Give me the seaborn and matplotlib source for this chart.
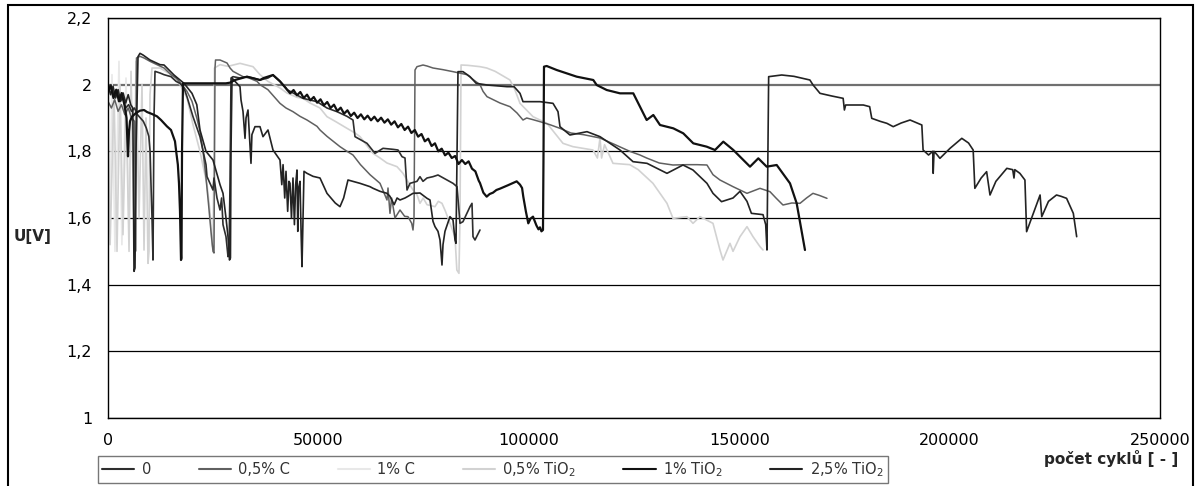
import matplotlib
matplotlib.use("Agg")
import matplotlib.pyplot as plt
from matplotlib.lines import Line2D
from matplotlib.patches import Rectangle
import seaborn as sns
import pandas as pd

# ---------------- data (cycles, voltage) ----------------
series_names = ["0", "0,5% C", "1% C", "0,5% TiO$_2$", "1% TiO$_2$", "2,5% TiO$_2$"]

x_0 = [0, 700, 1400, 2100, 2800, 3500, 4200, 4900, 5600, 6300, 7000, 7700, 8400, 9100, 9700, 10000, 10220,
       10460, 10690, 10930, 11170, 12360, 13310, 14970,
       16160, 17110, 18060, 18770, 20200, 21860, 23290, 23530, 24950, 25190, 25900, 26620, 27000, 27330, 28040,
       28520, 28760, 28990, 29230, 29710, 31370, 33030, 34460, 36120, 38020, 39210, 40870, 42300, 42540, 44000,
       46340, 49670, 52040, 54420, 56800, 58220, 58700, 61550, 63450, 65350, 67730, 68920, 69870, 70580, 71060,
       71770, 73430, 74140, 74860, 75810, 77230, 78420, 80560, 81990, 82940, 83650, 84360, 86030, 86500, 86740,
       87210, 88400]
u_0 = [1.99, 2.00, 1.97, 1.98, 1.95, 1.96, 1.93, 1.94, 1.92, 1.93, 1.91, 1.90, 1.89, 1.87, 1.845, 1.80, 1.70,
       1.60, 1.474, 1.90, 2.04, 2.035, 2.03, 2.024,
       2.01, 2.004, 1.99, 1.964, 1.904, 1.844, 1.76, 1.724, 1.684, 1.72, 1.66, 1.624, 1.66, 1.58, 1.544,
       1.484, 1.49, 1.70, 2.02, 2.024, 2.02, 2.024, 2.02, 2.014, 2.02, 2.029, 2.01, 1.99, 1.985, 1.975,
       1.959, 1.949, 1.93, 1.919, 1.905, 1.894, 1.844, 1.824, 1.794, 1.809, 1.806, 1.804, 1.784, 1.78, 1.684,
       1.704, 1.71, 1.724, 1.71, 1.72, 1.724, 1.729, 1.714, 1.704, 1.694, 1.584, 1.589, 1.634, 1.644, 1.544,
       1.534, 1.564]

x_05c = [0, 800, 1600, 2400, 3200, 4000, 4800, 5600, 6300, 6420, 6540, 6770, 7600, 8560,
         9980, 11640, 13310, 14970, 16160, 17590, 18770, 19960, 21100, 21860, 22580, 23290, 23900, 24470, 24950,
         25190, 25430, 25550, 26620, 28280, 29000, 29710, 32080, 33500, 35410, 36120, 38000, 40870, 42300, 43960,
         45630, 47290, 49670, 50380, 52040, 55130, 56800, 58220, 60000, 62260, 64640, 66300, 66540, 67010, 67400,
         68200, 69390, 70500, 71290, 72170, 72480, 72720, 72960, 73430, 74860, 75810, 77230, 79610, 81990, 85310,
         86800, 88400, 89120, 90070, 93150, 95530, 97200, 98620, 99500, 101000, 102660, 105000, 107410, 110000,
         113000, 116920, 120500, 124000, 126420, 128000, 131000, 134260, 137590, 140000, 142340, 143770, 145430,
         148530, 151850, 154940, 157310, 158740, 160400, 162500, 164450, 166000, 167530, 169000, 170860]
u_05c = [1.95, 1.93, 1.955, 1.92, 1.94, 1.91, 1.93, 1.90, 1.89, 1.70, 1.50, 2.08, 2.085, 2.08,
         2.07, 2.06, 2.05, 2.03, 2.02, 2.00, 1.98, 1.95, 1.90, 1.86, 1.80, 1.72, 1.64, 1.56, 1.50,
         1.495, 2.05, 2.074, 2.074, 2.065, 2.05, 2.04, 2.024, 2.02, 2.01, 2.00, 1.985, 1.944, 1.93, 1.919,
         1.905, 1.894, 1.875, 1.864, 1.845, 1.814, 1.80, 1.789, 1.76, 1.73, 1.704, 1.654, 1.69, 1.614, 1.66,
         1.60, 1.624, 1.605, 1.604, 1.584, 1.564, 1.60, 2.044, 2.054, 2.059, 2.056, 2.05, 2.045, 2.039, 2.03,
         2.015, 2.00, 1.98, 1.964, 1.945, 1.934, 1.915, 1.894, 1.90, 1.895, 1.889, 1.88, 1.869, 1.855,
         1.85, 1.84, 1.82, 1.80, 1.789, 1.78, 1.765, 1.759, 1.76, 1.76, 1.759, 1.73, 1.714,
         1.694, 1.674, 1.689, 1.679, 1.66, 1.639, 1.645, 1.644, 1.66, 1.674, 1.668, 1.659]

x_1c = [0, 475, 950, 1660, 2610, 3300, 4280, 5000, 5500]
u_1c = [1.92, 1.55, 2.03, 1.50, 2.07, 1.52, 2.02, 1.55, 1.90]

x_05t = [0, 500, 1430, 2140, 2850, 3560, 4280, 5000, 5470, 6200, 6650, 7370, 8080, 8560, 9030, 9510, 9740, 9980,
         10460, 12360, 14970,
         17110, 18770, 19490, 20200, 21860, 23530, 24240, 24720, 24950, 25190, 25300, 26620, 28500, 31370, 34460,
         36120, 38000, 40870, 42540, 44910, 46340, 48000, 50380, 52040, 54000, 56800, 58700, 59890, 62970, 64640,
         66300, 68680, 70100, 72480, 73430, 74140, 74900, 75810, 77700, 78500, 79370, 80200, 81270, 82460, 82900,
         83400, 83650, 83900, 85500, 88400, 90000, 92000, 95530, 96720, 97910, 101000, 104320, 108120, 110500,
         115250, 116300, 116920, 117300, 118000, 120010, 124000, 126000, 129510, 132840, 134260, 137590, 139020,
         140680, 143770, 145430, 146150, 147810, 148530, 150190, 151850, 153280, 154940, 155660]
u_05t = [1.88, 1.52, 1.98, 1.50, 2.00, 1.55, 1.96, 1.50, 2.04, 1.55, 2.07, 1.60, 2.00, 1.504, 1.90, 1.464, 1.50, 1.97,
         2.05, 2.05, 2.03,
         2.00, 1.96, 1.92, 1.88, 1.80, 1.70, 1.62, 1.52, 1.51, 1.80, 2.05, 2.06, 2.055, 2.064, 2.054,
         2.03, 2.01, 1.99, 1.975, 1.962, 1.959, 1.945, 1.93, 1.904, 1.89, 1.869, 1.855, 1.844, 1.794, 1.78,
         1.765, 1.754, 1.734, 1.684, 1.67, 1.644, 1.66, 1.64, 1.634, 1.65, 1.644, 1.62, 1.584, 1.544, 1.444,
         1.434, 1.60, 2.059, 2.058, 2.054, 2.05, 2.04, 2.014, 1.984, 1.944, 1.904, 1.884, 1.824, 1.814,
         1.804, 1.78, 1.84, 1.78, 1.82, 1.764, 1.76, 1.745, 1.704, 1.644, 1.599, 1.604, 1.584,
         1.604, 1.584, 1.504, 1.474, 1.524, 1.50, 1.544, 1.574, 1.544, 1.514, 1.504]

x_1t = [0, 650, 1300, 1950, 2600, 3250, 3900, 4400,
        4750, 4990, 5230, 5700, 6650, 7600, 8560, 9270, 10460, 11640, 12600, 14000, 14970, 15920, 16160, 16600,
        16870, 17110, 17350, 17470, 17590, 17820, 20000, 24000, 28000, 29000, 30180, 33030, 36120, 37000, 39210,
        40870, 42540, 43300, 44100, 44900, 45700, 46500, 47300, 48100, 48900, 49700, 50500, 51300, 52100, 52900,
        53700, 54500, 55300, 56100, 56900, 57700, 58500, 59300, 60100, 60900, 61700, 62500, 63300, 64100, 64900,
        65700, 66500, 67300, 68100, 68900, 69700, 70500, 71300, 72100, 72900, 73700, 74500, 75300, 76100, 76900,
        77700, 78500, 79300, 80100, 80900, 81700, 82500, 83300, 84100, 84900, 85700, 86500, 87300, 88100, 88400,
        89200, 89990, 90700, 91490, 92300, 93150, 95000, 97120, 97910, 98400, 98690, 99300, 99880, 100400, 101000,
        101800, 102300, 102660, 103000, 103370, 103500, 103610, 104250, 106620, 111380, 115320, 116130, 118510,
        121670, 124830, 126420, 128010, 129590, 131180, 134340, 136710, 139090, 142270, 144250, 146220, 148600,
        152570, 154540, 156530, 158910, 162070, 163660, 165630]
u_1t = [1.98, 1.995, 1.96, 1.985, 1.95, 1.975, 1.94, 1.90,
        1.785, 1.86, 1.89, 1.904, 1.915, 1.922, 1.924, 1.918, 1.912, 1.905, 1.894, 1.875, 1.864, 1.83, 1.804, 1.76,
        1.704, 1.62, 1.474, 1.48, 1.80, 2.004, 2.004, 2.004, 2.004, 2.006, 2.014, 2.024, 2.014, 2.02, 2.029,
        2.01, 1.985, 1.974, 1.984, 1.968, 1.978, 1.960, 1.970, 1.953, 1.963, 1.946, 1.956, 1.938, 1.948, 1.930,
        1.940, 1.921, 1.931, 1.913, 1.923, 1.906, 1.916, 1.900, 1.911, 1.896, 1.907, 1.893, 1.904, 1.890, 1.901,
        1.886, 1.896, 1.880, 1.890, 1.872, 1.882, 1.864, 1.874, 1.855, 1.864, 1.844, 1.852, 1.830, 1.838, 1.816,
        1.824, 1.800, 1.808, 1.788, 1.796, 1.780, 1.786, 1.762, 1.774, 1.762, 1.770, 1.748, 1.740, 1.712, 1.705,
        1.676, 1.664, 1.672, 1.676, 1.684, 1.688, 1.698, 1.710, 1.700, 1.690, 1.664, 1.620, 1.584, 1.598, 1.604,
        1.578, 1.566, 1.572, 1.560, 1.564, 1.80, 2.054, 2.056, 2.044, 2.024, 2.014, 1.999, 1.984,
        1.974, 1.974, 1.934, 1.894, 1.909, 1.879, 1.869, 1.854, 1.824, 1.814, 1.804, 1.829, 1.804,
        1.754, 1.779, 1.754, 1.759, 1.704, 1.644, 1.504]

x_25t = [0, 600, 1200, 1800, 2400, 3000, 3600, 4200, 4800, 5400, 5900, 6180, 6420, 6650, 7130, 7600, 8320, 9980,
         12360, 13310, 15680, 18060, 19960, 21100,
         21860, 23290, 24950, 26620, 27330, 28040, 28520, 28870, 29100, 29230, 29470, 30180, 31370, 31610, 32080,
         32560, 32800, 33270, 33980, 34200, 34930, 36120, 36830, 38020, 39210, 40870, 41300, 41600, 42000, 42300,
         42700, 43000, 43250, 43600, 43960, 44300, 44600, 44910, 45100, 45300, 45630, 45900, 46100, 46340, 46580,
         47290, 48720, 50380, 52040, 54000, 55130, 56000, 57030,
         59890, 62260, 63000, 64640, 66300, 67010, 68000, 68700, 69390, 70580, 71290, 72480, 74140, 75810, 76520,
         77230, 77710, 78420, 78900, 79370, 79610, 80080, 81270, 81990, 82460, 82700, 82940, 83170, 84360, 86030,
         87500, 90070, 94820, 96500, 97910, 98620, 102660, 105750, 106940, 107410, 109780, 113830, 116920, 121670,
         124760, 128090, 132840, 136640, 139020, 142340, 143770, 145800, 148530, 150190, 151850, 152900, 155660,
         156300, 156600, 156840, 157000, 160100, 163000, 166800, 167500, 169200, 172000, 174700, 175000, 175300,
         179500, 181000, 181500, 183500, 185100, 186600, 188500, 190600, 193400, 193700, 195000, 196000, 196100,
         196300, 197000, 197700, 200100, 202900, 204500, 205600, 206000, 207500, 208800, 209600, 211000, 213600,
         215000, 215300, 215500, 216700, 217900, 218300, 219900, 221500, 221900, 223500, 225400, 226500, 227800,
         229400, 230200]
u_25t = [2.00, 1.97, 1.995, 1.96, 1.985, 1.95, 1.975, 1.945, 1.97, 1.94, 1.93, 1.44, 1.45, 1.80, 2.084, 2.094,
         2.089, 2.074, 2.06, 2.059, 2.029, 2.004, 1.974, 1.94,
         1.864, 1.80, 1.774, 1.70, 1.674, 1.60, 1.544, 1.474, 1.48, 1.80, 2.02, 2.01, 1.994, 1.954, 1.92,
         1.839, 1.90, 1.924, 1.764, 1.85, 1.874, 1.874, 1.844, 1.864, 1.804, 1.774, 1.70, 1.76, 1.66, 1.74,
         1.62, 1.71, 1.704, 1.60, 1.72, 1.58, 1.70, 1.744, 1.56, 1.69, 1.71, 1.55, 1.454, 1.60, 1.74,
         1.734, 1.725, 1.72, 1.674, 1.645, 1.634, 1.66, 1.714,
         1.704, 1.694, 1.689, 1.68, 1.674, 1.665, 1.64, 1.66, 1.654, 1.66, 1.665, 1.674, 1.675, 1.659, 1.654,
         1.59, 1.574, 1.56, 1.534, 1.459, 1.52, 1.56, 1.604, 1.594, 1.534, 1.524, 1.80, 2.039, 2.039, 2.024,
         2.004, 1.999, 1.994, 1.994, 1.974, 1.949, 1.949, 1.944, 1.919, 1.874, 1.849, 1.859, 1.844, 1.804,
         1.769, 1.764, 1.734, 1.759, 1.744, 1.704, 1.674, 1.649, 1.66, 1.68, 1.65, 1.614, 1.61,
         1.58, 1.504, 1.80, 2.024, 2.029, 2.025, 2.014, 2.0, 1.974, 1.966, 1.959, 1.924, 1.939,
         1.939, 1.934, 1.899, 1.89, 1.884, 1.874, 1.885, 1.894, 1.879, 1.804, 1.789, 1.80, 1.734,
         1.80, 1.79, 1.779, 1.809, 1.839, 1.825, 1.804, 1.689, 1.72, 1.739, 1.669, 1.71, 1.749,
         1.745, 1.72, 1.745, 1.734, 1.714, 1.559, 1.614, 1.669, 1.604, 1.65, 1.669, 1.665, 1.659,
         1.614, 1.544]

x_ticks = [0, 50000, 100000, 150000, 200000, 250000]
x_tick_labels = ["0", "50000", "100000", "150000", "200000", "250000"]
y_ticks = [1.0, 1.2, 1.4, 1.6, 1.8, 2.0, 2.2]
y_tick_labels = ["1", "1,2", "1,4", "1,6", "1,8", "2", "2,2"]

# ---------------- build long table ----------------
xs = [x_0, x_05c, x_1c, x_05t, x_1t, x_25t]
us = [u_0, u_05c, u_1c, u_05t, u_1t, u_25t]
rows = []
for name, xx, uu in zip(series_names, xs, us):
    for i, (a, b) in enumerate(zip(xx, uu)):
        rows.append((name, i, a, b))
df = pd.DataFrame(rows, columns=["series", "idx", "cycles", "U"])

palette = {
    "0": "#2e2e2e",
    "0,5% C": "#606060",
    "1% C": "#e8e8e8",
    "0,5% TiO$_2$": "#d2d2d2",
    "1% TiO$_2$": "#111111",
    "2,5% TiO$_2$": "#232323",
}
widths = {
    "0": 1.2,
    "0,5% C": 1.1,
    "1% C": 1.2,
    "0,5% TiO$_2$": 1.2,
    "1% TiO$_2$": 1.6,
    "2,5% TiO$_2$": 1.2,
}
draw_order = ["1% C", "0,5% TiO$_2$", "0,5% C", "0", "2,5% TiO$_2$", "1% TiO$_2$"]

# ---------------- style ----------------
sns.set_style("white")
plt.rcParams["font.family"] = ["DejaVu Sans"]
plt.rcParams["mathtext.fontset"] = "dejavusans"

fig = plt.figure(figsize=(12, 4.86), dpi=100)
ax = fig.add_axes([108 / 1200, 1 - 418 / 486, (1160 - 108) / 1200, (418 - 18) / 486])

for name in draw_order:
    sub = df[df["series"] == name].sort_values("idx")
    sns.lineplot(data=sub, x="cycles", y="U", ax=ax, color=palette[name],
                 linewidth=widths[name], sort=False, estimator=None, legend=False)

ax.set_xlim(0, 250000)
ax.set_ylim(1.0, 2.2)
ax.set_xticks(x_ticks)
ax.set_xticklabels(x_tick_labels)
ax.set_yticks(y_ticks)
ax.set_yticklabels(y_tick_labels)
ax.set_xlabel("")
ax.set_ylabel("")
ax.tick_params(axis="both", labelsize=11.5, colors="black", direction="out", width=1)
ax.tick_params(axis="x", length=4, pad=7)
ax.tick_params(axis="y", length=4.5, pad=7)
ax.yaxis.grid(True, color="black", linewidth=0.9)
ax.xaxis.grid(False)
ax.set_axisbelow(True)
glines = ax.get_ygridlines()
glines[5].set_color("#707070")
glines[5].set_linewidth(1.6)
for s in ax.spines.values():
    s.set_visible(True)
    s.set_color("black")
    s.set_linewidth(1.0)

# labels
fig.text(1178 / 1200, 1 - 458 / 486, "počet cyklů [ - ]", ha="right", va="center",
         fontsize=11, fontweight="bold")
fig.text(33 / 1200, 1 - 236 / 486, "U[V]", ha="center", va="center", fontsize=11, fontweight="bold")

# legend
handles = [Line2D([], [], color=palette[n], linewidth=1.5) for n in series_names]
leg = fig.legend(handles, series_names, loc="lower left",
                 bbox_to_anchor=(98 / 1200, 3 / 486, 790 / 1200, 26 / 486), mode="expand",
                 ncol=6, fontsize=10.5, frameon=True, fancybox=False, handlelength=2.2,
                 handletextpad=0.5, borderpad=0.3, borderaxespad=0)
leg.get_frame().set_edgecolor("#555555")
leg.get_frame().set_linewidth(1.0)
for t in leg.get_texts():
    t.set_color("#333333")

# outer frame
fig.patches.append(Rectangle((8 / 1200, -0.02), (1193 - 8) / 1200, 1 - 5 / 486 + 0.02,
                             transform=fig.transFigure, fill=False, edgecolor="black",
                             linewidth=1.5))

fig.savefig("out.png", dpi=100)
